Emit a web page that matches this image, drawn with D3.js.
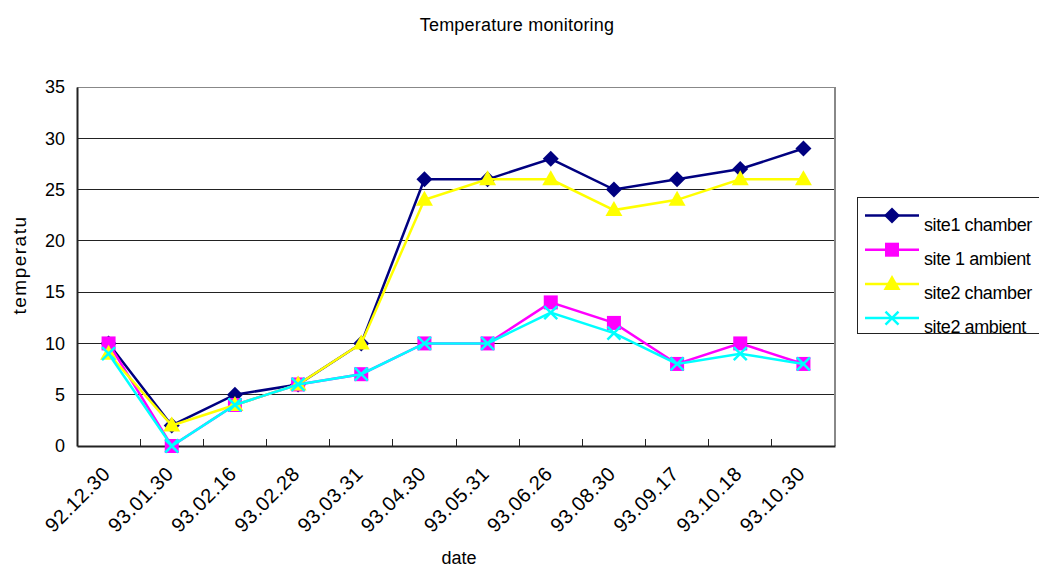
<!DOCTYPE html>
<html>
<head>
<meta charset="utf-8">
<script src="https://cdn.jsdelivr.net/npm/d3@7"></script>
<style>
  body { margin: 0; background: #fff; }
  text { font-family: "Liberation Sans", Arial, sans-serif; fill: #000; }
</style>
</head>
<body>
<svg id="chart" width="1039" height="568"></svg>
<script>
const categories = ["92.12.30","93.01.30","93.02.16","93.02.28","93.03.31","93.04.30","93.05.31","93.06.26","93.08.30","93.09.17","93.10.18","93.10.30"];
const site1Chamber = [10, 2, 5, 6, 10, 26, 26, 28, 25, 26, 27, 29];
const site1Ambient = [10, 0, 4, 6, 7, 10, 10, 14, 12, 8, 10, 8];
const site2Chamber = [9, 2, 4, 6, 10, 24, 26, 26, 23, 24, 26, 26];
const site2Ambient = [9, 0, 4, 6, 7, 10, 10, 13, 11, 8, 9, 8];
const seriesNames = ["site1 chamber", "site 1 ambient", "site2 chamber", "site2 ambient"];
const yTicks = [0, 5, 10, 15, 20, 25, 30, 35];

const series = [
  { name: seriesNames[0], values: site1Chamber, color: "#000080", marker: "diamond" },
  { name: seriesNames[1], values: site1Ambient, color: "#FF00FF", marker: "square" },
  { name: seriesNames[2], values: site2Chamber, color: "#FFFF00", marker: "triangle" },
  { name: seriesNames[3], values: site2Ambient, color: "#00FFFF", marker: "x" }
];

const svg = d3.select("#chart");
const L = 77, R = 835, T = 87, B = 446;

const x = d3.scaleBand().domain(categories).range([L, R]);
const y = d3.scaleLinear().domain([0, 35]).range([B, T]);

// gridlines
svg.append("g").selectAll("line").data(yTicks.filter(d => d > 0)).join("line")
  .attr("x1", L).attr("x2", R)
  .attr("y1", d => y(d)).attr("y2", d => y(d))
  .attr("stroke", d => d === 35 ? "#888" : "#222").attr("stroke-width", 1)
  .attr("shape-rendering", "crispEdges");

// right border
svg.append("line").attr("x1", R).attr("x2", R).attr("y1", T).attr("y2", B)
  .attr("stroke", "#888").attr("stroke-width", 1.5).attr("shape-rendering", "crispEdges");

// y axis
const yAxis = d3.axisLeft(y).tickValues(yTicks).tickSize(0).tickPadding(12);
const gy = svg.append("g").attr("transform", `translate(${L},0)`).call(yAxis);
gy.select(".domain").attr("stroke", "#222").attr("stroke-width", 2);
gy.selectAll("text").style("font-size", "18px").style("font-family", "'Liberation Sans', Arial, sans-serif").attr("fill", "#000");

// x axis
const xAxis = d3.axisBottom(x).tickSize(0).tickFormat("");
const gx = svg.append("g").attr("transform", `translate(0,${B})`).call(xAxis);
gx.select(".domain").attr("stroke", "#222").attr("stroke-width", 2);
// inner ticks at category boundaries
const bounds = categories.slice(1).map(c => x(c));
svg.append("g").selectAll("line").data(bounds).join("line")
  .attr("x1", d => d).attr("x2", d => d).attr("y1", B).attr("y2", B - 7)
  .attr("stroke", "#222").attr("stroke-width", 1).attr("shape-rendering", "crispEdges");

// x labels rotated
svg.append("g").selectAll("text").data(categories).join("text")
  .attr("transform", d => `translate(${x(d) + x.bandwidth() / 2 + 3},${B + 29}) rotate(-45)`)
  .attr("text-anchor", "end")
  .style("font-size", "20px")
  .style("letter-spacing", "0.6px")
  .text(d => d);

// lines and markers
const line = d3.line()
  .x((d, i) => x(categories[i]) + x.bandwidth() / 2)
  .y(d => y(d));

function drawMarker(g, type, color, cx, cy) {
  if (type === "diamond") {
    g.append("path").attr("d", `M${cx},${cy - 8}L${cx + 8},${cy}L${cx},${cy + 8}L${cx - 8},${cy}Z`).attr("fill", color);
  } else if (type === "square") {
    g.append("rect").attr("x", cx - 7).attr("y", cy - 7).attr("width", 14).attr("height", 14).attr("fill", color);
  } else if (type === "triangle") {
    g.append("path").attr("d", `M${cx},${cy - 9}L${cx + 8.5},${cy + 6}L${cx - 8.5},${cy + 6}Z`).attr("fill", color);
  } else if (type === "x") {
    g.append("path").attr("d", `M${cx - 6.5},${cy - 6.5}L${cx + 6.5},${cy + 6.5}M${cx + 6.5},${cy - 6.5}L${cx - 6.5},${cy + 6.5}`)
      .attr("stroke", color).attr("stroke-width", 2.5).attr("fill", "none");
  }
}

series.forEach(s => {
  const g = svg.append("g");
  g.append("path").attr("d", line(s.values)).attr("fill", "none")
    .attr("stroke", s.color).attr("stroke-width", 2.5).attr("stroke-linejoin", "miter");
  s.values.forEach((v, i) => {
    drawMarker(g, s.marker, s.color, x(categories[i]) + x.bandwidth() / 2, y(v));
  });
});

// title
svg.append("text").attr("x", 517).attr("y", 31).attr("text-anchor", "middle")
  .style("font-size", "18px").style("letter-spacing", "0.2px").text("Temperature monitoring");

// axis titles
svg.append("text").attr("x", 459).attr("y", 564).attr("text-anchor", "middle")
  .style("font-size", "18px").text("date");
svg.append("text").attr("transform", "translate(26,265) rotate(-90)").attr("text-anchor", "middle")
  .style("font-size", "19px").style("letter-spacing", "1.5px").text("temperatu");

// legend
const lg = svg.append("g");
lg.append("rect").attr("x", 857.5).attr("y", 197.5).attr("width", 190).attr("height", 136)
  .attr("fill", "#fff").attr("stroke", "#222").attr("stroke-width", 1);
series.forEach((s, i) => {
  const ly = 215.5 + i * 34.2;
  const eg = lg.append("g");
  eg.append("line").attr("x1", 865).attr("x2", 919).attr("y1", ly).attr("y2", ly)
    .attr("stroke", s.color).attr("stroke-width", 2.5);
  drawMarker(eg, s.marker, s.color, 892, ly);
  eg.append("text").attr("x", 924).attr("y", ly + 15).style("font-size", "18px")
    .style("letter-spacing", "-0.4px").text(s.name);
});
</script>
</body>
</html>
